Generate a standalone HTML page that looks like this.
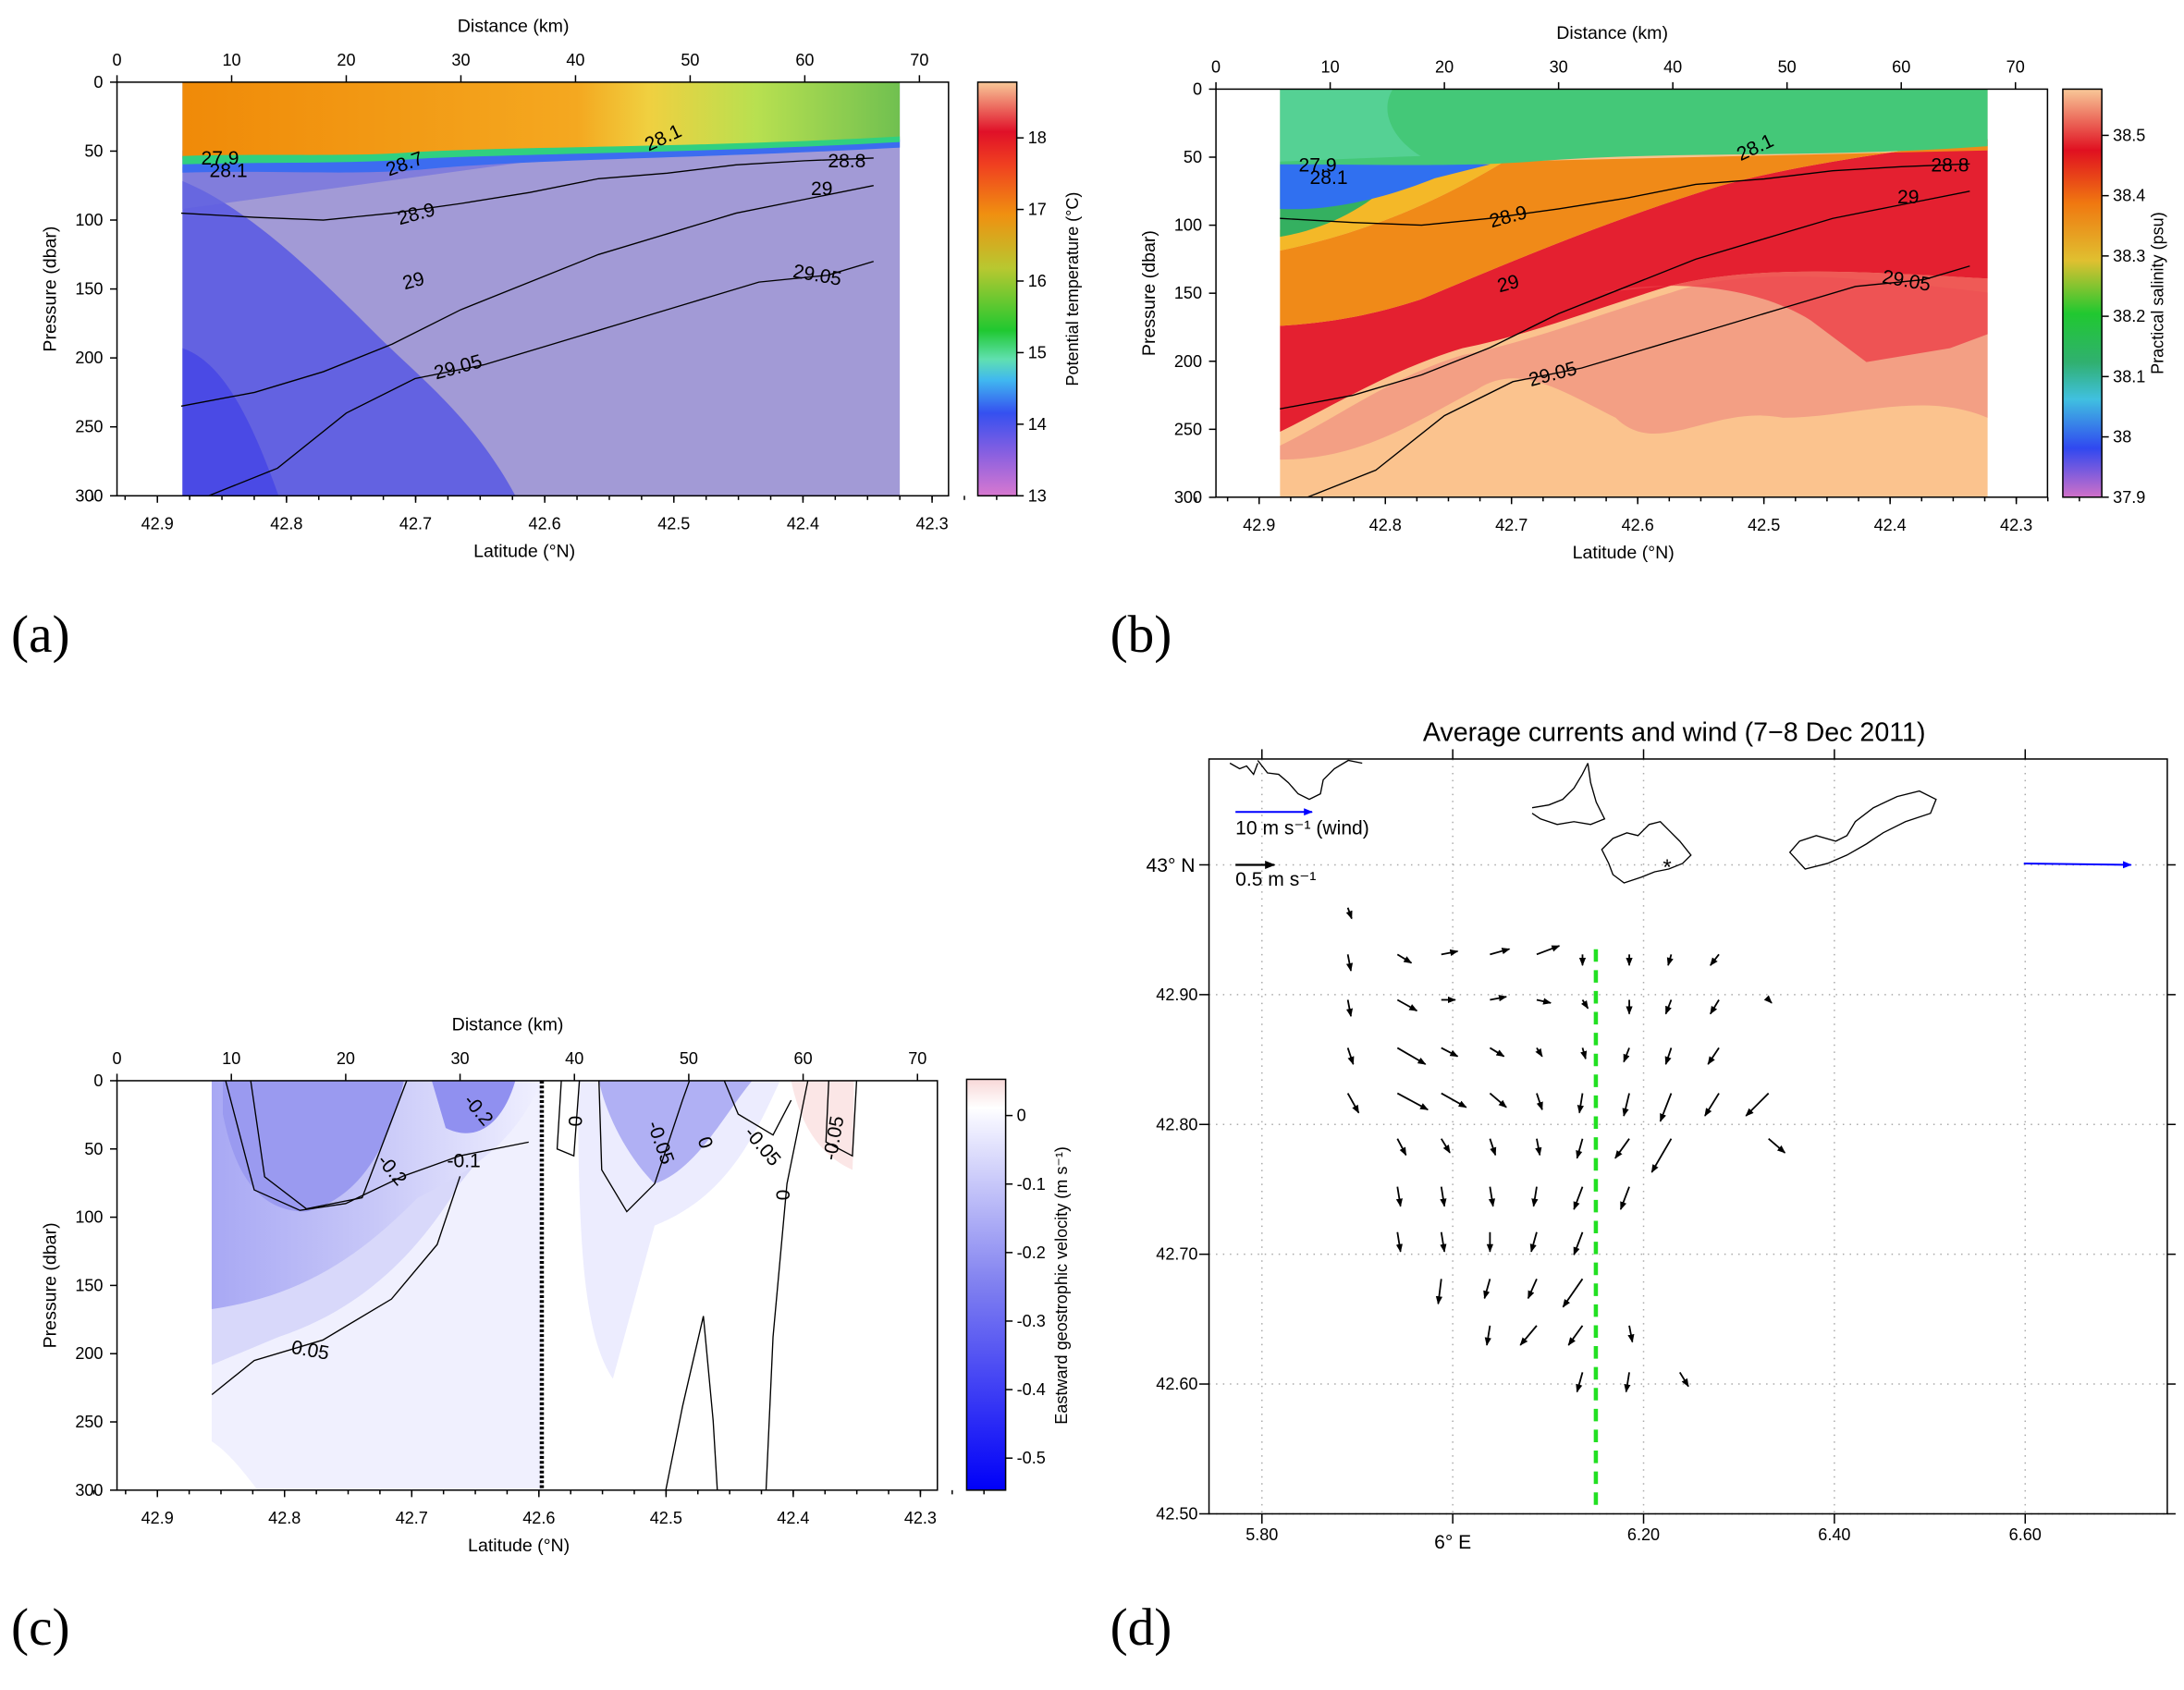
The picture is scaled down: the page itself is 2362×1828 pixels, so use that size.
<!DOCTYPE html>
<html><head><meta charset="utf-8"><style>
html,body{margin:0;padding:0;background:#fff}
svg{display:block}
text{font-family:"Liberation Sans",sans-serif;fill:#000}
.ser{font-family:"Liberation Serif",serif}
</style></head><body>
<svg id="root" xmlns="http://www.w3.org/2000/svg" width="2362" height="1828" viewBox="0 0 1568 1213.5" preserveAspectRatio="none">
<defs>
<linearGradient id="cbA" x1="0" y1="1" x2="0" y2="0">
<stop offset="0" stop-color="#d878d0"/><stop offset="0.1" stop-color="#8a60e0"/><stop offset="0.2" stop-color="#3550f0"/><stop offset="0.28" stop-color="#40b8f0"/><stop offset="0.33" stop-color="#60e0b0"/><stop offset="0.4" stop-color="#20c830"/><stop offset="0.55" stop-color="#b8c830"/><stop offset="0.68" stop-color="#f09010"/><stop offset="0.8" stop-color="#f04020"/><stop offset="0.88" stop-color="#e01028"/><stop offset="1" stop-color="#f8c898"/></linearGradient>
<linearGradient id="cbB" x1="0" y1="1" x2="0" y2="0">
<stop offset="0" stop-color="#d070c8"/><stop offset="0.12" stop-color="#3048f0"/><stop offset="0.24" stop-color="#40c0e0"/><stop offset="0.33" stop-color="#30b070"/><stop offset="0.45" stop-color="#20c830"/><stop offset="0.58" stop-color="#e0c030"/><stop offset="0.72" stop-color="#f07810"/><stop offset="0.85" stop-color="#e01020"/><stop offset="1" stop-color="#f8c898"/></linearGradient>
<linearGradient id="cbC" x1="0" y1="1" x2="0" y2="0">
<stop offset="0" stop-color="#0000f8"/><stop offset="0.5" stop-color="#8080f0"/><stop offset="0.9" stop-color="#f4f4ff"/><stop offset="0.93" stop-color="#ffffff"/><stop offset="1" stop-color="#f8d8d8"/></linearGradient>
<linearGradient id="topA" x1="0" y1="0" x2="1" y2="0">
<stop offset="0" stop-color="#f08a08"/><stop offset="0.55" stop-color="#f4a820"/><stop offset="0.65" stop-color="#f0d040"/><stop offset="0.8" stop-color="#b8e050"/><stop offset="1" stop-color="#70c050"/></linearGradient>
<linearGradient id="deepA" x1="0" y1="1" x2="1" y2="0">
<stop offset="0" stop-color="#4848e8"/><stop offset="0.35" stop-color="#7070e0"/><stop offset="0.55" stop-color="#a09ad8"/><stop offset="1" stop-color="#aca2d4"/></linearGradient>
<linearGradient id="cfill" x1="0" y1="0" x2="1" y2="0">
<stop offset="0" stop-color="#a8a8f4"/><stop offset="0.5" stop-color="#c8c8f8"/><stop offset="1" stop-color="#f0f0ff"/></linearGradient>
<marker id="ah" viewBox="0 0 10 10" refX="9" refY="5" markerWidth="5" markerHeight="5" orient="auto"><path d="M0,1 L10,5 L0,9 z" fill="#000"/></marker>
<marker id="ahb" viewBox="0 0 10 10" refX="9" refY="5" markerWidth="5" markerHeight="5" orient="auto"><path d="M0,1 L10,5 L0,9 z" fill="#0000ff"/></marker>
</defs>
</svg>
<script>
// ---- data ----
const distTicks=[0,10,20,30,40,50,60,70];
const latTicks=[42.9,42.8,42.7,42.6,42.5,42.4,42.3];
const presTicks=[0,50,100,150,200,250,300];
const tempTicks=[13,14,15,16,17,18];
const salTicks=[37.9,38,38.1,38.2,38.3,38.4,38.5];
const velTicks=[0,-0.1,-0.2,-0.3,-0.4,-0.5];
// contour lines for (a)/(b): distance km, pressure dbar
const cA289d=[5.6,12,18,24,30,36,42,48,54,60,66];
const cA289p=[95,98,100,95,88,80,70,66,60,57,55];
const cA29d=[5.6,12,18,24,30,36,42,48,54,60,66];
const cA29p=[235,225,210,190,165,145,125,110,95,85,75];
const cA2905d=[8,14,20,26,32,38,44,50,56,62,66];
const cA2905p=[300,280,240,215,205,190,175,160,145,140,130];
// panel (c) velocity contours
const cC005d=[8.3,12,18,24,28,30];
const cC005p=[230,205,190,160,120,70];
const cC01d=[9.5,12,16,20,25,30,36];
const cC01p=[0,80,95,90,70,55,45];
// arrows (d): lon, lat, u (cm/s), v (cm/s)
const arLon=[5.890,5.890,5.942,5.988,6.039,6.088,6.136,6.185,6.229,6.279,
5.890,5.942,5.988,6.039,6.088,6.136,6.185,6.229,6.279,6.331,
5.890,5.942,5.988,6.039,6.088,6.136,6.185,6.229,6.279,
5.890,5.942,5.988,6.039,6.088,6.136,6.185,6.229,6.279,6.331,
5.942,5.988,6.039,6.088,6.136,6.185,6.229,6.331,
5.942,5.988,6.039,6.088,6.136,6.185,
5.942,5.988,6.039,6.088,6.136,
5.988,6.039,6.088,6.136,
6.039,6.088,6.136,6.185,
6.136,6.185,6.238];
const arLat=[42.967,42.931,42.931,42.931,42.931,42.931,42.931,42.931,42.931,42.931,
42.896,42.896,42.896,42.896,42.896,42.896,42.896,42.896,42.896,42.896,
42.859,42.859,42.859,42.859,42.859,42.859,42.859,42.859,42.859,
42.824,42.824,42.824,42.824,42.824,42.824,42.824,42.824,42.824,42.824,
42.789,42.789,42.789,42.789,42.789,42.789,42.789,42.789,
42.752,42.752,42.752,42.752,42.752,42.752,
42.717,42.717,42.717,42.717,42.717,
42.681,42.681,42.681,42.681,
42.645,42.645,42.645,42.645,
42.609,42.609,42.609];
const arU=[5,4,18,21,25,29,0,0,-4,-11,
4,25,18,21,18,7,0,-7,-11,4,
7,36,21,18,7,4,-7,-7,-14,
14,39,32,21,7,-4,-7,-14,-18,-29,
11,11,7,4,-7,-18,-25,21,
4,4,4,-4,-11,-11,
4,4,0,-7,-11,
-4,-7,-11,-25,
-4,-21,-18,4,
-7,-4,11];
const arV=[-14,-21,-11,4,7,11,-14,-14,-14,-14,
-21,-14,0,4,-4,-11,-18,-18,-18,-4,
-21,-21,-11,-11,-11,-14,-18,-21,-21,
-25,-21,-18,-18,-21,-25,-29,-36,-29,-29,
-21,-18,-21,-21,-25,-25,-43,-18,
-25,-25,-25,-25,-29,-29,
-25,-25,-25,-25,-29,
-32,-25,-25,-36,
-25,-25,-25,-21,
-25,-25,-18];

const svg=document.getElementById('root');
const NS='http://www.w3.org/2000/svg';
function mk(tag,at,parent){const e=document.createElementNS(NS,tag);for(const k in at)e.setAttribute(k,at[k]);(parent||svg).appendChild(e);return e;}
function txt(x,y,s,size,anchor,parent,extra){const e=mk('text',Object.assign({x:x,y:y,'font-size':size,'text-anchor':anchor||'middle'},extra||{}),parent);e.textContent=s;return e;}

function section(cfg){
 const g=mk('g',{});
 
 
 const X=d=>cfg.x0+d*cfg.kx, Y=p=>cfg.y0+p*cfg.ky, L=l=>cfg.l0+(42.9-l)*cfg.kl;
 cfg.fill(g,X,Y);
 const fr=mk('rect',{x:cfg.fx0,y:cfg.y0,width:cfg.fx1-cfg.fx0,height:cfg.y1-cfg.y0,fill:'none',stroke:'#000','stroke-width':1},g);
 
 
 distTicks.forEach(d=>{mk('line',{x1:X(d),x2:X(d),y1:cfg.y0,y2:cfg.y0-5,stroke:'#000'},g);const t=txt(X(d),cfg.y0-12,String(d),12,'middle',g);});
 latTicks.forEach(l=>{mk('line',{x1:L(l),x2:L(l),y1:cfg.y1,y2:cfg.y1+5,stroke:'#000'},g);const t=txt(L(l),cfg.y1+24,l.toFixed(1),12,'middle',g);});
 for(let l=42.95;l>42.25;l-=0.025){mk('line',{x1:L(l),x2:L(l),y1:cfg.y1,y2:cfg.y1+3,stroke:'#000'},g);}
 presTicks.forEach(p=>{mk('line',{x1:cfg.fx0,x2:cfg.fx0-5,y1:Y(p),y2:Y(p),stroke:'#000'},g);const t=txt(cfg.fx0-10,Y(p)+4,String(p),12,'end',g);});
 let t=txt((cfg.fx0+cfg.fx1)/2-14,cfg.y0-36,'Distance (km)',13,'middle',g);
 t=txt((cfg.fx0+cfg.fx1)/2-6,cfg.y1+44,'Latitude (°N)',13,'middle',g);
 t=txt(0,0,'Pressure (dbar)',13,'middle',g,{transform:`translate(${cfg.fx0-44},${(cfg.y0+cfg.y1)/2}) rotate(-90)`});
 const cb=mk('rect',{x:cfg.cbx,y:cfg.cbTop||cfg.y0,width:28,height:cfg.y1-(cfg.cbTop||cfg.y0),fill:cfg.cbfill,stroke:'#000'},g);
 
 
 cfg.cbTicks.forEach(v=>{const y=cfg.cbY(v);mk('line',{x1:cfg.cbx+28,x2:cfg.cbx+33,y1:y,y2:y,stroke:'#000'},g);const tt=txt(cfg.cbx+36,y+4,cfg.cbFmt(v),12,'start',g);});
 t=txt(0,0,cfg.cbTitle,12,'middle',g,{transform:`translate(${cfg.cbx+72},${(cfg.y0+cfg.y1)/2}) rotate(-90)`});
 return {g,X,Y,L};
}
function contour(g,X,Y,ds,ps,name){
 const pts=ds.map((d,i)=>X(d)+','+Y(ps[i])).join(' ');
 const e=mk('polyline',{points:pts,fill:'none',stroke:'#000','stroke-width':0.9},g);
 
 
}
function lbl(g,x,y,s,rot,name){const e=txt(x,y,s,14,'middle',g,{transform:`rotate(${rot||0} ${x} ${y})`});}

// ---- panel a ----
const A=section({name:'panel-a-temperature',x0:84,kx:8.23,y0:59,y1:356,ky:0.99,l0:113,kl:927,fx0:84,fx1:681,cbx:702,cbfill:'url(#cbA)',cbTicks:tempTicks,cbY:v=>356-(v-13)*51.4,cbFmt:v=>String(v),cbTitle:'Potential temperature (°C)',
 fill:(g,X,Y)=>{
  mk('rect',{x:131,y:59,width:515,height:297,fill:'#a29ad6'},g);
  mk('path',{d:'M131,356 L131,130 C180,150 230,200 270,240 C300,270 340,300 370,356 Z',fill:'#5454e4',opacity:0.8},g);
  mk('path',{d:'M131,356 L131,250 C160,260 180,300 200,356 Z',fill:'#3a3ae8',opacity:0.6},g);
  mk('path',{d:'M131,120 L280,122 C300,120 330,112 380,110 L646,100 L646,106 L380,116 L131,150 Z',fill:'#6a6ae0',opacity:0.6},g);
  mk('path',{d:'M131,108 C200,112 260,118 300,112 C380,108 500,110 646,100 L646,106 C500,114 380,114 300,122 C250,126 200,122 131,124 Z',fill:'#3c6cf0'},g);
  mk('path',{d:'M131,59 L646,59 L646,100 C500,108 380,106 300,110 C250,114 200,112 131,114 Z',fill:'url(#topA)'},g);
  mk('path',{d:'M131,112 C200,110 250,113 300,109 C380,105 500,106 646,98 L646,102 C500,110 380,110 300,114 C250,118 200,116 131,118 Z',fill:'#30d080'},g);
 }});
contour(A.g,A.X,A.Y,cA289d,cA289p,'contour-28-9');
contour(A.g,A.X,A.Y,cA29d,cA29p,'contour-29');
contour(A.g,A.X,A.Y,cA2905d,cA2905p,'contour-29-05');
lbl(A.g,158,118,'27.9',0,'contour-label');lbl(A.g,164,127,'28.1',0,'contour-label');lbl(A.g,478,103,'28.1',-25,'contour-label');
lbl(A.g,292,122,'28.7',-20,'contour-label');lbl(A.g,300,158,'28.9',-15,'contour-label');lbl(A.g,590,140,'29',0,'contour-label');
lbl(A.g,298,206,'29',-15,'contour-label');lbl(A.g,330,268,'29.05',-15,'contour-label');lbl(A.g,586,202,'29.05',10,'contour-label');lbl(A.g,608,120,'28.8',0,'contour-label');

// ---- panel b ----
const B=section({name:'panel-b-salinity',x0:873,kx:8.2,y0:64,y1:357,ky:0.977,l0:904,kl:906,fx0:873,fx1:1470,cbx:1481,cbfill:'url(#cbB)',cbTicks:salTicks,cbY:v=>357-(v-37.9)*433,cbFmt:v=>String(v),cbTitle:'Practical salinity (psu)',
 fill:(g,X,Y)=>{
  mk('rect',{x:919,y:64,width:508,height:293,fill:'#fbc38e'},g);
  mk('path',{d:'M919,320 C960,300 1000,270 1050,255 C1100,245 1150,225 1200,210 C1260,190 1340,200 1427,210 L1427,300 C1380,280 1330,300 1280,300 C1230,290 1190,330 1160,300 C1120,280 1090,260 1060,280 C1020,300 980,330 919,330 Z',fill:'#f09080',opacity:0.7},g);
  mk('path',{d:'M919,310 C960,290 1000,265 1050,250 C1100,240 1150,220 1200,205 C1260,190 1340,195 1427,200 L1427,100 C1350,110 1280,120 1230,135 C1150,160 1080,190 1020,215 C980,228 950,232 919,234 Z',fill:'#e42030'},g);
  mk('path',{d:'M1150,210 C1200,200 1260,205 1300,230 L1340,260 L1400,250 L1427,240 L1427,200 C1340,195 1260,190 1200,205 Z',fill:'#ec4048',opacity:0.8},g);
  mk('path',{d:'M919,234 C950,232 980,228 1020,215 C1080,190 1150,160 1230,135 C1280,120 1350,110 1427,100 L1427,108 L1080,116 C1040,140 990,165 919,180 Z',fill:'#f08a18'},g);
  mk('path',{d:'M919,180 C990,165 1040,140 1080,116 L1000,118 C980,140 950,160 919,165 Z',fill:'#f4b828'},g);
  mk('path',{d:'M919,170 C950,165 980,150 1000,130 L1020,118 L919,118 Z',fill:'#34b060'},g);
  mk('path',{d:'M919,150 C960,152 1000,140 1030,128 L1070,118 L919,116 Z',fill:'#3070f0'},g);
  mk('path',{d:'M919,64 L1427,64 L1427,105 C1300,114 1200,108 1100,116 C1050,120 980,118 919,118 Z',fill:'#44c878'},g);
  mk('path',{d:'M919,64 L1000,64 C990,80 1000,100 1020,112 L919,116 Z',fill:'#5cd4a0',opacity:0.7},g);
 }});
contour(B.g,B.X,B.Y,cA289d,cA289p,'contour-28-9');
contour(B.g,B.X,B.Y,cA29d,cA29p,'contour-29');
contour(B.g,B.X,B.Y,cA2905d,cA2905p,'contour-29-05');
lbl(B.g,946,123,'27.9',0,'contour-label');lbl(B.g,954,132,'28.1',0,'contour-label');lbl(B.g,1262,110,'28.1',-25,'contour-label');
lbl(B.g,1084,160,'28.9',-15,'contour-label');lbl(B.g,1370,146,'29',0,'contour-label');lbl(B.g,1084,208,'29',-15,'contour-label');
lbl(B.g,1116,273,'29.05',-15,'contour-label');lbl(B.g,1368,206,'29.05',10,'contour-label');lbl(B.g,1400,123,'28.8',0,'contour-label');

// ---- panel c ----
const C=section({name:'panel-c-velocity',x0:84,kx:8.21,y0:776,y1:1070,ky:0.98,l0:113,kl:913,fx0:84,fx1:673,cbx:694,cbTop:775,cbfill:'url(#cbC)',cbTicks:velTicks,cbY:v=>801-v*492,cbFmt:v=>String(v),cbTitle:'Eastward geostrophic velocity (m s⁻¹)',
 fill:(g,X,Y)=>{
  mk('path',{d:'M152,776 L389,776 L389,1070 L185,1070 C170,1050 160,1040 152,1035 Z',fill:'#f0f0fe'},g);
  mk('path',{d:'M152,776 L389,776 L330,850 C300,900 260,940 200,960 L152,980 Z',fill:'#d8d8fa'},g);
  mk('path',{d:'M152,776 L389,776 C370,820 340,840 300,860 C260,900 220,930 152,940 Z',fill:'url(#cfill)'},g);
  mk('path',{d:'M160,776 L290,776 C280,820 260,860 220,870 C190,870 170,850 160,800 Z',fill:'#9a9af0'},g);
  mk('path',{d:'M310,776 L370,776 C360,810 340,820 320,810 Z',fill:'#9090f0'},g);
  mk('path',{d:'M415,776 L560,776 C540,820 520,860 470,880 L440,990 C420,960 415,900 415,776 Z',fill:'#ececfe'},g);
  mk('path',{d:'M430,776 L540,776 C520,800 500,840 470,850 C450,830 435,800 430,776 Z',fill:'#b0b0f4'},g);
  mk('path',{d:'M568,776 L615,776 L612,840 C590,830 575,810 568,776 Z',fill:'#fbe6e6'},g);
  mk('rect',{x:613,y:776,width:60,height:294,fill:'#fff'},g);
 }});
contour(C.g,C.X,C.Y,cC005d,cC005p,'contour-minus-0-05');
contour(C.g,C.X,C.Y,cC01d,cC01p,'contour-minus-0-1');
mk('polyline',{points:'180,776 190,845 220,868 260,860 292,776',fill:'none',stroke:'#000','stroke-width':0.9},C.g);
mk('polyline',{points:'430,776 432,840 450,870 470,850 490,790 495,776',fill:'none',stroke:'#000','stroke-width':0.9},C.g);
mk('polyline',{points:'550,1070 555,960 565,850 580,776',fill:'none',stroke:'#000','stroke-width':0.9},C.g);
mk('polyline',{points:'478,1070 490,1010 505,945 512,1020 515,1070',fill:'none',stroke:'#000','stroke-width':0.9},C.g);
mk('polyline',{points:'403,776 400,825 412,830 416,776',fill:'none',stroke:'#000','stroke-width':0.9},C.g);
mk('polyline',{points:'595,776 593,820 612,830 615,776',fill:'none',stroke:'#000','stroke-width':0.9},C.g);
mk('polyline',{points:'520,776 530,800 555,815 568,790',fill:'none',stroke:'#000','stroke-width':0.9},C.g);
const dl=mk('line',{x1:389,x2:389,y1:776,y2:1070,stroke:'#000','stroke-width':3,'stroke-dasharray':'2,1.5'},C.g);


lbl(C.g,278,843,'-0.2',50,'contour-label');lbl(C.g,340,800,'-0.2',50,'contour-label');lbl(C.g,333,838,'-0.1',0,'contour-label');
lbl(C.g,222,974,'0.05',10,'contour-label');lbl(C.g,418,805,'0',-90,'contour-label');lbl(C.g,470,822,'-0.05',70,'contour-label');
lbl(C.g,502,822,'0',70,'contour-label');lbl(C.g,544,826,'-0.05',50,'contour-label');lbl(C.g,567,858,'0',-90,'contour-label');
lbl(C.g,603,818,'-0.05',-80,'contour-label');

// ---- panel d ----
const gd=mk('g',{});


const LX=lon=>906+(lon-5.8)*685, LY=lat=>621+(43-lat)*932;
let tt=txt(1202,532,'Average currents and wind (7−8  Dec  2011)',19,'middle',gd);


const lonTicks=[5.8,6.0,6.2,6.4,6.6], latGrid=[43.0,42.9,42.8,42.7,42.6,42.5];
lonTicks.forEach(l=>{mk('line',{x1:LX(l),x2:LX(l),y1:545,y2:1087,stroke:'#aaa','stroke-dasharray':'1,4'},gd);mk('line',{x1:LX(l),x2:LX(l),y1:538,y2:545,stroke:'#000'},gd);mk('line',{x1:LX(l),x2:LX(l),y1:1087,y2:1094,stroke:'#000'},gd);});
latGrid.forEach(l=>{mk('line',{x1:868,x2:1556,y1:LY(l),y2:LY(l),stroke:'#aaa','stroke-dasharray':'1,4'},gd);mk('line',{x1:861,x2:868,y1:LY(l),y2:LY(l),stroke:'#000'},gd);mk('line',{x1:1556,x2:1562,y1:LY(l),y2:LY(l),stroke:'#000'},gd);});
[5.8,6.2,6.4,6.6].forEach(l=>{const e=txt(LX(l),1106,l.toFixed(2),12,'middle',gd);});
tt=txt(LX(6.0),1112,'6° E',14,'middle',gd);
[42.9,42.8,42.7,42.6,42.5].forEach(l=>{const e=txt(860,LY(l)+4,l.toFixed(2),12,'end',gd);});
tt=txt(858,626,'43° N',14,'end',gd);
const fr=mk('rect',{x:868,y:545,width:688,height:542,fill:'none',stroke:'#000'},gd);


const coasts=['M883,548 L890,552 L895,550 L900,556 L903,548','M903,546 L910,555 L918,556 L925,562 L932,570 L940,574 L948,570 L950,560 L958,552 L968,546 L978,548',
'M1100,580 L1112,578 L1122,574 L1130,566 L1136,556 L1140,548 M1140,548 L1142,562 L1146,576 L1152,588 L1142,592 L1130,590 L1118,592 L1106,588 L1100,584',
'M1150,610 L1158,602 L1168,598 L1176,600 L1184,592 L1192,590 L1198,596 L1206,604 L1214,614 L1208,620 L1198,624 L1188,626 L1178,630 L1166,634 L1158,628 L1155,620 Z',
'M1285,612 L1292,604 L1304,600 L1318,604 L1326,600 L1332,590 L1345,580 L1362,572 L1378,568 L1390,574 L1386,584 L1368,590 L1352,598 L1340,606 L1326,614 L1312,620 L1296,624 Z'];
coasts.forEach(d=>{const e=mk('path',{d:d,fill:'none',stroke:'#000','stroke-width':0.9},gd);});
tt=txt(1197,628,'*',16,'middle',gd,{fill:'#0000ff'});
let e=mk('line',{x1:887,y1:583,x2:942,y2:583,stroke:'#0000ff','stroke-width':1.3,'marker-end':'url(#ahb)'},gd);


tt=txt(887,599,'10 m s⁻¹ (wind)',14,'start',gd,{fill:'#0000ff'});
e=mk('line',{x1:887,y1:621,x2:915,y2:621,stroke:'#000','stroke-width':1.5,'marker-end':'url(#ah)'},gd);


tt=txt(887,636,'0.5 m s⁻¹',14,'start',gd);
e=mk('line',{x1:1453,y1:620,x2:1530,y2:621,stroke:'#0000ff','stroke-width':1.3,'marker-end':'url(#ahb)'},gd);


e=mk('line',{x1:LX(6.15),y1:LY(42.935),x2:LX(6.15),y2:1082,stroke:'#22e022','stroke-width':3,'stroke-dasharray':'9,6'},gd);


const K=0.56;
arLon.forEach((lon,i)=>{
 const x=LX(lon),y=LY(arLat[i]);
 const a=mk('line',{x1:x,y1:y,x2:x+arU[i]*K,y2:y-arV[i]*K,stroke:'#000','stroke-width':1.2,'marker-end':'url(#ah)'},gd);
 
 
});

[['(a)',8,468],['(b)',797,468],['(c)',8,1181],['(d)',797,1181]].forEach(p=>{const t=txt(p[1],p[2],p[0],38,'start',svg,{class:'ser'});});
</script>
</body></html>
